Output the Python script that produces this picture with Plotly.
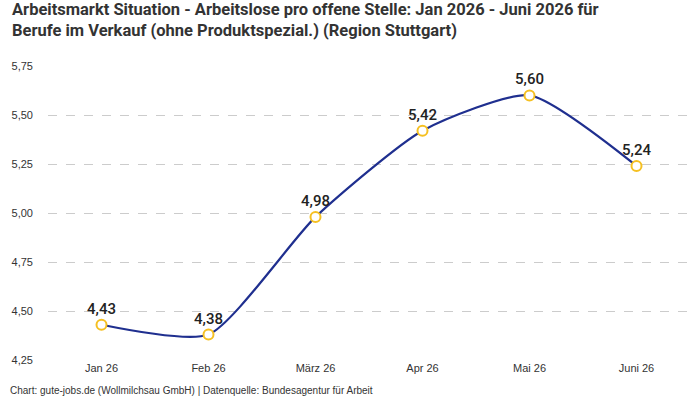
import plotly.graph_objects as go

months = ["Jan 26", "Feb 26", "März 26", "Apr 26", "Mai 26", "Juni 26"]
values = [4.43, 4.38, 4.98, 5.42, 5.60, 5.24]
labels = ["4,43", "4,38", "4,98", "5,42", "5,60", "5,24"]
yticks = [4.25, 4.50, 4.75, 5.00, 5.25, 5.50, 5.75]
ytick_text = ["4,25", "4,50", "4,75", "5,00", "5,25", "5,50", "5,75"]

fig = go.Figure()
fig.add_trace(go.Scatter(
    x=months, y=values, mode="lines+markers+text",
    text=labels, textposition="top center",
    textfont=dict(family="Roboto, sans-serif", size=15, color="#222", weight=500),
    line=dict(color="#1f2f8f", width=2.2, shape="spline", smoothing=0.6),
    marker=dict(size=10, color="white", line=dict(color="#f5c022", width=2)),
    cliponaxis=False, hoverinfo="skip",
))

fig.update_layout(
    width=700, height=400,
    margin=dict(l=48, r=10, t=66, b=40),
    paper_bgcolor="white", plot_bgcolor="white",
    showlegend=False,
    xaxis=dict(
        type="category", range=[-0.5, 5.5], showgrid=False, zeroline=False,
        showline=False, ticks="", tickfont=dict(family="Liberation Sans, Arial", size=11, color="#333"),
    ),
    yaxis=dict(
        range=[4.25, 5.75], tickvals=yticks, ticktext=ytick_text,
        showgrid=True, gridcolor="#cccccc", griddash="dash", gridwidth=1,
        zeroline=False, showline=False, ticks="", ticklabelstandoff=14,
        tickfont=dict(family="Liberation Sans, Arial", size=11, color="#333"),
    ),
    annotations=[
        dict(
            text="<b>Arbeitsmarkt Situation - Arbeitslose pro offene Stelle: Jan 2026 - Juni 2026 für<br>Berufe im Verkauf (ohne Produktspezial.) (Region Stuttgart)</b>",
            xref="paper", yref="paper", x=0, y=1, xanchor="left", yanchor="bottom",
            xshift=-38, yshift=24, align="left",
            showarrow=False, font=dict(family="Roboto, sans-serif", size=16.5, color="#333"),
        ),
        dict(
            text="Chart: gute-jobs.de (Wollmilchsau GmbH) | Datenquelle: Bundesagentur für Arbeit",
            xref="paper", yref="paper", x=0, y=0, xanchor="left", yanchor="bottom",
            xshift=-40, yshift=-38,
            showarrow=False, font=dict(family="Liberation Sans, Arial", size=10, color="#333"),
        ),
    ],
)

fig.write_html("out.html")
